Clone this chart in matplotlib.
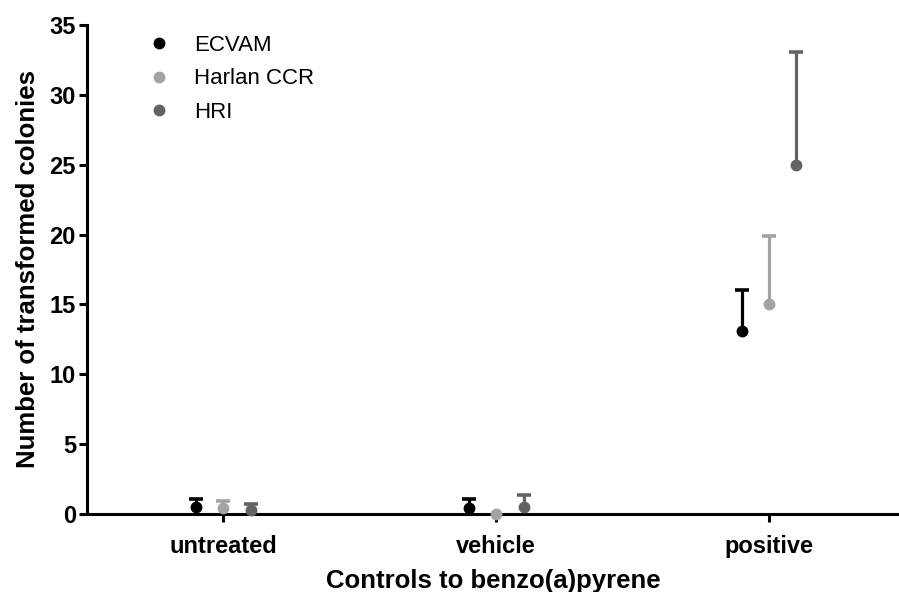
import matplotlib
matplotlib.use("Agg")
import matplotlib.pyplot as plt
import numpy as np

plt.rcParams['font.family'] = ['Liberation Sans', 'DejaVu Sans']

# datos
categories = ['untreated', 'vehicle', 'positive']
series = ['ECVAM', 'Harlan CCR', 'HRI']
ecvam_mean = [0.5, 0.4, 13.1]
ecvam_err = [0.55, 0.65, 2.9]
harlan_mean = [0.4, 0.0, 15.0]
harlan_err = [0.5, 0.0, 4.9]
hri_mean = [0.3, 0.5, 25.0]
hri_err = [0.4, 0.85, 8.05]

colors = ['#000000', '#a3a3a3', '#636363']
offsets = [-0.1, 0.0, 0.1]

fig = plt.figure(figsize=(8.99, 5.92), dpi=100)
ax = fig.add_axes([87/899, 78/592, 1 - 87/899, (514 - 25)/592])

x = np.arange(len(categories))
means = [ecvam_mean, harlan_mean, hri_mean]
errs = [ecvam_err, harlan_err, hri_err]

for name, m, e, c, off in zip(series, means, errs, colors, offsets):
    m = np.array(m)
    e = np.array(e)
    mask = e > 0
    xs = x[mask] + off
    top = m[mask] + e[mask]
    # barra de error solo hacia arriba, con tapa arriba
    ax.vlines(xs, m[mask], top, color=c, linewidth=2.3, zorder=3, clip_on=False)
    ax.plot(xs, top, linestyle='none', marker='_', markersize=9.5,
            markeredgewidth=2.6, color=c, zorder=3, clip_on=False)
    ax.plot(x + off, m, 'o', color=c, markersize=7.5, label=name, clip_on=False, zorder=4)

ax.set_xlim(-0.5, 2.476)
ax.set_ylim(0, 35)
ax.set_yticks(np.arange(0, 36, 5))
ax.set_xticks(x)
ax.set_xticklabels(categories)

for s in ['top', 'right']:
    ax.spines[s].set_visible(False)
for s in ['left', 'bottom']:
    ax.spines[s].set_linewidth(2.2)

ax.tick_params(axis='both', width=2.2, length=6, labelsize=17, pad=2)
ax.tick_params(axis='x', pad=9)
for lab in ax.get_xticklabels() + ax.get_yticklabels():
    lab.set_fontweight('bold')

ax.set_ylabel('Number of transformed colonies', fontsize=18.5, fontweight='bold', labelpad=7)
ax.set_xlabel('Controls to benzo(a)pyrene', fontsize=18.5, fontweight='bold', labelpad=8)

ax.legend(loc='upper left', bbox_to_anchor=(0.05, 1.02), frameon=False, fontsize=16,
          handletextpad=1.1, labelspacing=0.55, handlelength=1.0)

fig.savefig('out.png', dpi=100)
